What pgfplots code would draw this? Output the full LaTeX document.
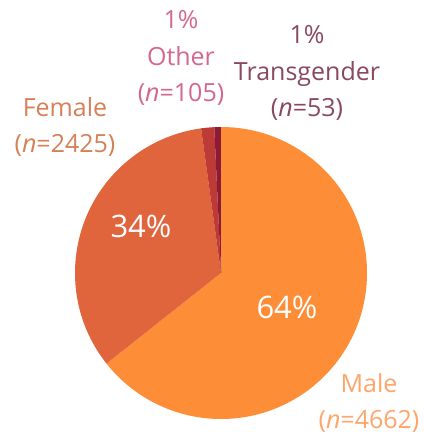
\documentclass[border=0pt]{standalone}
\usepackage{pgfplots}
\pgfplotsset{compat=1.18}
\usepackage{fontspec}
\setmainfont{Open Sans}
\definecolor{cMale}{RGB}{253,141,54}
\definecolor{cFemale}{RGB}{224,101,61}
\definecolor{cOther}{RGB}{190,58,55}
\definecolor{cTrans}{RGB}{140,27,55}
\definecolor{lMale}{RGB}{255,165,105}
\definecolor{lFemale}{RGB}{214,128,86}
\definecolor{lOther}{RGB}{212,104,140}
\definecolor{lTrans}{RGB}{137,72,94}
\begin{document}
\begin{tikzpicture}
\begin{axis}[
  scale only axis, width=424pt, height=437pt,
  xmin=0, xmax=424, ymin=0, ymax=437,
  hide axis, clip=false,
]
\path (axis cs:0,0) (axis cs:424,437);
\pgfmathsetmacro{\total}{4662+2425+105+53}
\gdef\startang{90}
\pgfplotsforeachungrouped \v/\c in {4662/cMale, 2425/cFemale, 105/cOther, 53/cTrans} {
  \pgfmathsetmacro{\endang}{\startang - 360*(\v/\total)}
  \edef\temp{\noexpand\fill[\c] (axis cs:221,164) -- ++(\startang:146pt) arc[start angle=\startang, end angle=\endang, radius=146pt] -- cycle;}
  \temp
  \global\let\startang\endang
}
\tikzset{lab/.style={align=center, font=\fontsize{25}{36.5}\selectfont, anchor=center, inner sep=0pt}}
\node[lab, text=lOther] at (axis cs:181,379) {1\%\\Other\\(\textit{n}=105)};
\node[lab, text=lTrans] at (axis cs:307,364) {1\%\\Transgender\\(\textit{n}=53)};
\node[lab, text=lFemale] at (axis cs:65,310) {Female\\(\textit{n}=2425)};
\node[lab, text=lMale] at (axis cs:369,34) {Male\\(\textit{n}=4662)};
\node[lab, text=white, font=\fontsize{31}{36}\selectfont] at (axis cs:141,211) {34\%};
\node[lab, text=white, font=\fontsize{31}{36}\selectfont] at (axis cs:287,130) {64\%};
\end{axis}
\end{tikzpicture}
\end{document}
